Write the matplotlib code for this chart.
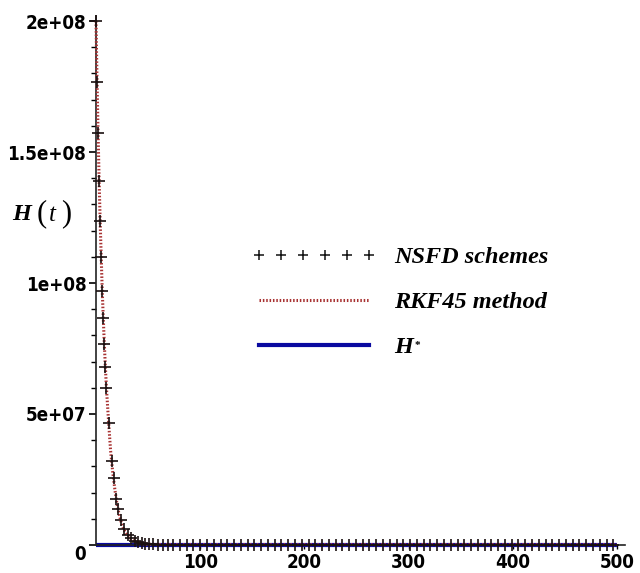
import numpy as np
import matplotlib
matplotlib.use("Agg")
import matplotlib.pyplot as plt
from matplotlib.lines import Line2D
import matplotlib.transforms as mtransforms

# ---- data ----
nsfd_t = [0, 1.0, 2.0, 3.0, 4.0, 5.0, 6.0, 7.0, 8.0, 9.0, 10.0, 12.2, 15.2, 16.8,
          19.6, 21.2, 24.0, 27.0, 30.5, 33.5, 37.4, 40.6, 43.9, 47.0, 51.2, 55.0,
          59.8, 64.6, 69.4, 74.2]
nsfd_H = [2.0e8, 1.766e8, 1.572e8, 1.39e8, 1.237e8, 1.10e8, 9.71e7, 8.66e7, 7.67e7,
          6.79e7, 5.99e7, 4.66e7, 3.22e7, 2.56e7, 1.76e7, 1.37e7, 9.5e6, 6.0e6,
          3.8e6, 2.7e6, 1.6e6, 1.1e6, 7.5e5, 5.0e5, 3.2e5, 2.2e5, 1.6e5, 1.3e5,
          1.2e5, 1.2e5]
# NSFD points lying on the equilibrium level
nsfd_tail_t = [80.5, 87, 93.5, 100, 106.5, 113, 119.5, 126, 132.5, 139, 145.5, 152,
               158.5, 165, 171.5, 178, 184.5, 191, 197.5, 204, 210.5, 217, 223.5,
               230, 236.5, 243, 249.5, 256, 262.5, 269, 275.5, 282, 288.5, 295,
               301.5, 308, 314.5, 321, 327.5, 334, 340.5, 347, 353.5, 360, 366.5,
               373, 379.5, 386, 392.5, 399, 405.5, 412, 418.5, 425, 431.5, 438,
               444.5, 451, 457.5, 464, 470.5, 477, 483.5, 490, 496.5]

rkf_t = [0, 1, 2, 3, 4, 5, 6, 7, 8, 9, 10, 12, 14, 16, 18, 20, 22, 24, 26, 28, 30,
         33, 36, 40, 45, 50, 60, 80, 500]
rkf_H = [2.0e8, 1.77e8, 1.57e8, 1.39e8, 1.235e8, 1.10e8, 9.7e7, 8.65e7, 7.65e7,
         6.8e7, 6.0e7, 4.75e7, 3.6e7, 2.8e7, 2.15e7, 1.6e7, 1.2e7, 9.0e6, 6.6e6,
         4.9e6, 3.8e6, 2.6e6, 1.8e6, 1.1e6, 5.5e5, 3.2e5, 1.6e5, 1.2e5, 1.2e5]

H_STAR = 1.2e5
t_range = [0, 500]

y_ticks = [0, 5e7, 1e8, 1.5e8, 2e8]
y_tick_labels = ["0", "5e+07", "1e+08", "1.5e+08", "2e+08"]
x_ticks = [100, 200, 300, 400, 500]
x_tick_labels = ["100", "200", "300", "400", "500"]

# ---- figure ----
W, Hpx = 640, 573
fig = plt.figure(figsize=(6.4, 5.73), dpi=100)
ax = fig.add_axes([0.15, 0.0489, 0.977 - 0.15, 0.9724 - 0.0489])

ax.plot(t_range, [H_STAR, H_STAR], color="#0a0aa0", lw=3.0, solid_capstyle="butt",
        clip_on=False, zorder=2)
ax.plot(rkf_t, rkf_H, color="#a83232", lw=2.2, linestyle=(0, (0.5, 0.6)),
        clip_on=False, zorder=3)
ax.plot(nsfd_t, nsfd_H, linestyle="none", marker="+", ms=8, mew=1.2,
        color="#1a1010", clip_on=False, zorder=4)
ax.plot(nsfd_tail_t, np.full(len(nsfd_tail_t), H_STAR), linestyle="none",
        marker="+", ms=8, mew=1.2, color="#1a1010", clip_on=False, zorder=4)

ax.set_xlim(0, 508)
ax.set_ylim(0, 2.02e8)

for s in ["top", "right"]:
    ax.spines[s].set_visible(False)
for s in ["left", "bottom"]:
    ax.spines[s].set_linewidth(1.2)
    ax.spines[s].set_color("#222222")

tick_font = dict(family=["DejaVu Sans"], weight="bold", stretch="condensed",
                 size=13.5)
ax.set_yticks(y_ticks)
ax.set_yticklabels(y_tick_labels, **tick_font)
ax.set_yticks(np.arange(0, 2.01e8, 1e7), minor=True)
ax.set_xticks(x_ticks)
ax.set_xticklabels(x_tick_labels, **tick_font)
ax.tick_params(axis="y", which="major", direction="out", length=5, width=1.2, pad=2)
ax.tick_params(axis="y", which="minor", direction="out", length=3.5, width=1.0)
ax.tick_params(axis="x", which="major", direction="out", length=3, width=1.0, pad=3)

# shift the "0" label downward as in the reference
lbl0 = ax.get_yticklabels()[0]
lbl0.set_transform(lbl0.get_transform() +
                   mtransforms.ScaledTranslation(0, -8 / 100, fig.dpi_scale_trans))

fig.text(12 / W, 1 - 215 / Hpx, "H", family="Liberation Serif", style="italic",
         weight="bold", size=17.5, va="center", ha="left")
fig.text(37 / W, 1 - 214 / Hpx, "(", family="Liberation Serif", size=22,
         va="center", ha="left")
fig.text(49 / W, 1 - 215 / Hpx, "t", family="Liberation Serif", style="italic",
         size=18, va="center", ha="left")
fig.text(61 / W, 1 - 214 / Hpx, ")", family="Liberation Serif", size=22,
         va="center", ha="left")

handles = [
    Line2D([], [], linestyle="none", marker="+", ms=7, mew=1.1, color="#111111"),
    Line2D([], [], color="#a83232", lw=2.2, linestyle=(0, (0.5, 0.6))),
    Line2D([], [], color="#0a0aa0", lw=3.0),
]
labels = ["NSFD schemes", "RKF45 method", "H"]
leg = ax.legend(handles, labels, loc="upper left",
                bbox_to_anchor=(252 / W, 1 - 246 / Hpx),
                bbox_transform=fig.transFigure, frameon=False, numpoints=6,
                handlelength=5.1, handletextpad=0.75, labelspacing=0.95,
                borderpad=0, borderaxespad=0,
                prop=dict(family="Liberation Serif", style="italic", weight="bold",
                          size=17.5))

# small superscript star next to the H of the last legend entry
fig.canvas.draw()
bb = leg.get_texts()[2].get_window_extent()
fig.text((bb.x1 + 1) / W, (bb.y1 - 4) / Hpx, "*", family="Liberation Serif",
         weight="bold", size=8, ha="left", va="top")

fig.savefig("out.png", dpi=100)
